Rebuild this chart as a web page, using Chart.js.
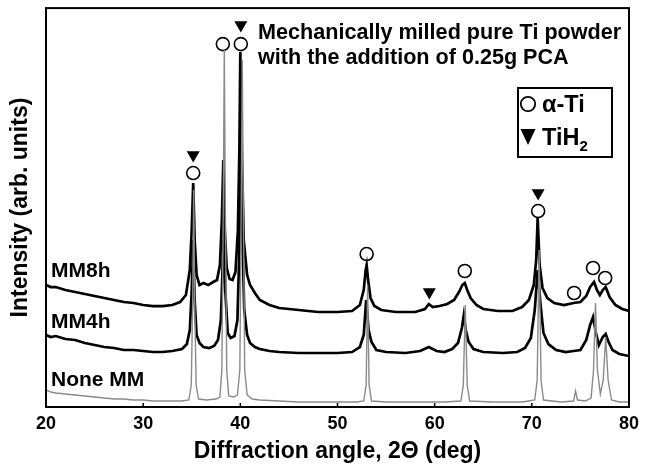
<!DOCTYPE html>
<html><head><meta charset="utf-8">
<script src="https://cdn.jsdelivr.net/npm/chart.js@4"></script>
<style>html,body{margin:0;padding:0;background:#fff}</style>
</head><body>
<canvas id="c" width="653" height="467"></canvas>
<script>
// ---- data (2θ in degrees, intensity in arbitrary units) ----
const noneAngles = [20,20.5,21,22,23,24,25,26,27,28,29,30,31,32,33,34,34.7,34.95,35.1,35.2,35.3,35.45,35.7,36.5,37.5,37.9,38.1,38.25,38.35,38.45,38.6,38.8,39.3,39.7,39.95,40.1,40.2,40.3,40.45,40.7,41.2,42,44,46,48,50,52,52.7,52.95,53.1,53.25,53.5,55,58,61,62.7,62.95,63.15,63.35,63.6,66,69,70.3,70.55,70.75,70.95,71.2,73,74.3,74.5,74.7,75.5,76.1,76.35,76.55,76.75,77.05,77.35,77.6,77.85,78.2,79,80];
const noneIntensity = [17,15,14,13,12,11,10,9,8,8,7,7,6,6,6,6,7,22,107,217,107,22,8,7,8,10,37,207,357,207,37,11,10,12,37,207,347,207,37,12,8,7,6,5,5,5,5,6,22,122,22,6,5,5,5,6,22,102,22,6,5,5,7,27,157,27,7,5,6,16,7,6,9,37,104,37,13,27,70,27,7,5,5];

const mm4hAngles = [20,20.5,21,22,23,24,25,26,27,28,29,30,31,32,33,34,34.5,34.8,35.0,35.15,35.3,35.5,35.8,36.2,36.8,37.3,37.7,38.0,38.2,38.3,38.45,38.7,39.0,39.4,39.7,39.9,40.05,40.2,40.4,40.7,41.0,41.5,42,43,44,46,48,50,51.5,52.3,52.7,52.95,53.2,53.5,54,55,57,58.5,59.4,60.2,61,61.8,62.4,62.8,63.0,63.2,63.5,64,65,67,68.5,69.3,69.9,70.3,70.6,70.9,71.2,71.7,72.5,73.5,74.3,75,75.6,76.0,76.3,76.6,76.9,77.3,77.6,77.9,78.3,79,80];
const mm4hIntensity = [72,70,71,68,67,64,62,60,59,57,57,56,55,55,56,58,63,77,117,167,107,72,64,60,59,61,67,87,147,187,117,74,69,71,87,157,307,177,97,72,64,60,58,56,55,54,54,54,55,60,72,107,77,65,57,55,54,56,60,56,55,58,64,79,92,77,65,58,55,54,55,59,69,97,137,102,74,63,57,55,56,57,67,82,90,74,62,70,73,65,57,53,51];

const mm8hAngles = [20,20.5,21,22,23,24,25,26,27,28,29,30,31,32,33,33.8,34.4,34.8,35.0,35.15,35.3,35.5,35.8,36.2,36.7,37.2,37.6,37.9,38.1,38.25,38.4,38.6,38.9,39.2,39.5,39.75,39.9,40.0,40.15,40.35,40.7,41.0,41.5,42,43,44,46,48,50,51.5,52.3,52.7,52.9,53.0,53.15,53.4,53.8,54.5,56,58,59.0,59.4,59.8,60.5,61.3,62,62.5,62.85,63.1,63.35,63.7,64.3,65,66.5,68,69,69.7,70.2,70.45,70.6,70.8,71.1,71.6,72.3,73.3,74.3,75.0,75.6,76.0,76.4,76.7,77.0,77.3,77.6,78.0,78.6,79.3,80];
const mm8hIntensity = [122,120,120,117,115,113,111,109,107,105,104,102,101,101,102,105,112,137,177,224,167,132,122,124,122,125,127,142,187,247,177,139,128,127,135,177,257,355,257,167,132,122,114,107,102,99,97,95,95,96,102,117,137,142,127,109,101,97,95,95,98,103,100,101,103,107,115,122,124,117,109,102,98,96,96,100,107,122,147,189,142,119,109,104,102,104,105,111,120,125,117,112,117,120,110,102,98,96];

// phase markers
const alphaTiAngles = [35.15, 38.2, 40.05, 53.0, 63.1, 70.65, 74.35, 76.3, 77.55];
const alphaTiMarks  = [234, 363, 363, 153, 136, 196, 114, 139, 129];
const tih2Angles = [35.15, 40.05, 59.45, 70.65];
const tih2Marks  = [252, 382, 115, 214];

const xTickValues = [20, 30, 40, 50, 60, 70, 80];
const seriesNames = ['MM8h', 'MM4h', 'None MM'];
const titleLines = ['Mechanically milled pure Ti powder', 'with the addition of 0.25g PCA'];

// ---- build ----
const FONT = "'Liberation Sans', Arial, sans-serif";
Chart.defaults.font.family = FONT;
Chart.defaults.color = '#000';
const toPts = (xs, ys) => xs.map((x, i) => ({x, y: ys[i]}));

const decor = {
  id: 'decor',
  afterDraw(chart) {
    const {ctx, chartArea: a, scales: {x}} = chart;
    ctx.save();
    // frame
    ctx.strokeStyle = '#000'; ctx.lineWidth = 2;
    ctx.strokeRect(a.left, a.top, a.right - a.left, a.bottom - a.top);
    // inward tick marks
    ctx.lineWidth = 1.5;
    xTickValues.forEach(v => {
      const px = x.getPixelForValue(v);
      ctx.beginPath(); ctx.moveTo(px, a.bottom); ctx.lineTo(px, a.bottom - 4); ctx.stroke();
    });
    // title
    ctx.fillStyle = '#000';
    ctx.textBaseline = 'alphabetic'; ctx.textAlign = 'left';
    ctx.font = "bold 21.6px " + FONT;
    ctx.fillText(titleLines[0], 258, 39);
    ctx.fillText(titleLines[1], 258, 64);
    // series labels
    ctx.font = "bold 21px " + FONT;
    ctx.fillText(seriesNames[0], 51, 277);
    ctx.fillText(seriesNames[1], 51, 328);
    ctx.fillText(seriesNames[2], 51, 386);
    // legend box
    ctx.lineWidth = 2;
    ctx.strokeRect(518, 88, 94, 69);
    ctx.lineWidth = 1.8;
    ctx.beginPath(); ctx.arc(528, 104, 7.2, 0, Math.PI * 2); ctx.stroke();
    ctx.beginPath(); ctx.moveTo(520.5, 129); ctx.lineTo(535.5, 129); ctx.lineTo(528, 145); ctx.closePath(); ctx.fill();
    ctx.font = "bold 23.5px " + FONT;
    ctx.fillText('α-Ti', 542, 112);
    ctx.fillText('TiH', 542, 145);
    const w = ctx.measureText('TiH').width;
    ctx.font = "bold 15px " + FONT;
    ctx.fillText('2', 542 + w, 151);
    ctx.restore();
  }
};

new Chart(document.getElementById('c'), {
  type: 'line',
  data: {
    datasets: [
      {label: 'None MM', data: toPts(noneAngles, noneIntensity), borderColor: '#8a8a8a', borderWidth: 1.4, pointRadius: 0, tension: 0},
      {label: 'MM4h', data: toPts(mm4hAngles, mm4hIntensity), borderColor: '#000', borderWidth: 2.7, pointRadius: 0, tension: 0},
      {label: 'MM8h', data: toPts(mm8hAngles, mm8hIntensity), borderColor: '#000', borderWidth: 2.7, pointRadius: 0, tension: 0},
      {type: 'scatter', label: 'α-Ti', data: toPts(alphaTiAngles, alphaTiMarks), pointStyle: 'circle', pointRadius: 6.5, pointBorderWidth: 1.6, pointBorderColor: '#000', pointBackgroundColor: '#fff', showLine: false},
      {type: 'scatter', label: 'TiH2', data: toPts(tih2Angles, tih2Marks), pointStyle: 'triangle', pointRotation: 180, pointRadius: 7.5, pointBorderWidth: 0, pointBackgroundColor: '#000', pointBorderColor: '#000', showLine: false}
    ]
  },
  options: {
    responsive: false, animation: false,
    layout: {padding: {top: 8, right: 24, left: 0, bottom: 0}},
    plugins: {legend: {display: false}, tooltip: {enabled: false}},
    scales: {
      x: {
        type: 'linear', min: 20, max: 80,
        afterBuildTicks: s => { s.ticks = xTickValues.map(v => ({value: v})); },
        grid: {display: false, drawTicks: false},
        border: {display: false},
        ticks: {font: {size: 18, weight: 'bold'}, padding: 6, maxRotation: 0},
        title: {display: true, text: 'Diffraction angle, 2Θ (deg)', font: {size: 23, weight: 'bold'}, padding: {top: 0, bottom: 2}},
        afterFit: s => { s.height = 60; }
      },
      y: {
        min: 0, max: 399,
        grid: {display: false, drawTicks: false},
        border: {display: false},
        ticks: {display: false},
        title: {display: true, text: 'Intensity (arb. units)', font: {size: 23, weight: 'bold'}, padding: {top: 7, bottom: 0}},
        afterFit: s => { s.width = 46; }
      }
    }
  },
  plugins: [decor]
});
</script>
</body></html>
